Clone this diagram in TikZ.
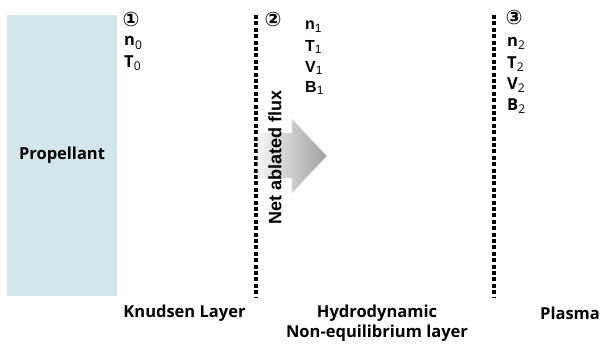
\documentclass[tikz,border=0pt]{standalone}
\usepackage{fontspec}
\setmainfont{Open Sans}
\newfontfamily\arialf{Liberation Sans}
\newfontfamily\circf{DejaVu Sans}
\definecolor{propblue}{RGB}{210,230,235}
\newcommand{\sbs}[1]{\raisebox{-0.35ex}{\fontsize{12}{14}\selectfont\mdseries #1}}
\begin{document}
\begin{tikzpicture}[x=1pt,y=-1pt,
  lbl/.style={font=\fontsize{16.5}{19}\selectfont\bfseries, inner sep=0pt},
  var/.style={font=\fontsize{16.5}{19}\selectfont\bfseries, inner sep=0pt, anchor=west},
  avar/.style={font=\arialf\fontsize{16}{18}\selectfont\bfseries, inner sep=0pt, anchor=west},
  circnum/.style={font=\circf\fontsize{20}{22}\selectfont\bfseries, inner sep=0pt},
  boundary/.style={line width=3.2pt, dash pattern=on 4pt off 2.4pt, black}
]
\useasboundingbox (0,0) rectangle (601,344);
\fill[propblue] (7,15) rectangle (117,296);
\node[lbl] (prop) at (62,155) {Propellant};

% boundaries
\coordinate (b1t) at (256,15); \coordinate (b1b) at (256,297);
\coordinate (b2t) at (494,15); \coordinate (b2b) at (494,297);
\draw[boundary] (b1t) -- (b1b);
\draw[boundary] (b2t) -- (b2b);

% arrow
\shade[left color=gray!8, right color=gray!75, draw=gray!20, line width=0.6pt]
  (258,133) -- (292,133) -- (292,119) -- (327,156) -- (292,193) -- (292,178) -- (258,178) -- cycle;
\node[font=\arialf\fontsize{18}{20}\selectfont\bfseries, rotate=90, inner sep=0pt] (flux) at (275,157) {Net ablated flux};

% station 1
\node[circnum] (c1) at (131,20) {①};
\node[var] (n0) at (124,43) {n\sbs{0}};
\node[var] (T0) at (124,63) {T\sbs{0}};

% station 2
\node[circnum] (c2) at (273,20) {②};
\node[avar] (n1) at (305,27) {n\sbs{1}};
\node[avar] (T1) at (305,47) {T\sbs{1}};
\node[avar] (V1) at (305,68) {V\sbs{1}};
\node[avar] (B1) at (305,88) {B\sbs{1}};

% station 3
\node[circnum] (c3) at (514,18) {③};
\node[var] (n2) at (507,43) {n\sbs{2}};
\node[var] (T2) at (507,64) {T\sbs{2}};
\node[var] (V2) at (507,85) {V\sbs{2}};
\node[var] (B2) at (507,106) {B\sbs{2}};

% region labels
\node[lbl] (knud) at (184.5,313) {Knudsen Layer};
\node[lbl] (hyd) at (377,313) {Hydrodynamic};
\node[lbl] (neq) at (377,333) {Non-equilibrium layer};
\node[lbl] (plas) at (570,313) {Plasma};
\end{tikzpicture}
\end{document}
